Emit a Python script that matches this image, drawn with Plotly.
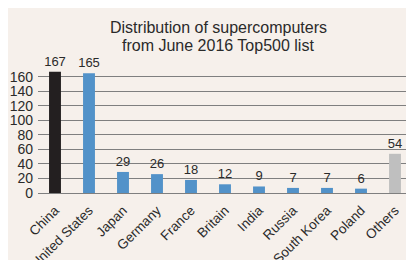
import plotly.graph_objects as go

countries = ["China", "United States", "Japan", "Germany", "France", "Britain",
             "India", "Russia", "South Korea", "Poland", "Others"]
counts = [167, 165, 29, 26, 18, 12, 9, 7, 7, 6, 54]
bar_colors = ["#231F20"] + ["#5292C9"] * 9 + ["#BFBFBF"]
title_lines = ["Distribution of supercomputers", "from June 2016 Top500 list"]

W, H = 414, 260
L, R, T, B = 30, 10, 58, 75
pw, ph = W - L - R, H - T - B

fig = go.Figure(go.Bar(
    x=countries, y=counts, marker_color=bar_colors, marker_line_width=0,
    text=[str(v) for v in counts], textposition="outside", constraintext="none",
    textfont=dict(size=13, color="#2a2a2a"), cliponaxis=False,
))

for i, line in enumerate(title_lines):
    fig.add_annotation(text=line, xref="paper", yref="paper",
                       x=(210 - L) / pw, y=(H - B - (19 + 18 * i)) / ph,
                       xanchor="center", yanchor="middle", showarrow=False,
                       font=dict(size=16, color="#2a2a2a"))

fig.update_layout(
    width=W, height=H, margin=dict(l=L, r=R, t=T, b=B, autoexpand=False),
    paper_bgcolor="#F6F0EB", plot_bgcolor="#F6F0EB",
    font=dict(family="Liberation Sans, Arial, sans-serif", color="#2a2a2a"),
    bargap=0.65, showlegend=False,
    xaxis=dict(tickangle=-45, tickfont=dict(size=13.5), showgrid=False,
               showline=False, zeroline=False, automargin=False,
               ticklabelstandoff=6),
    yaxis=dict(range=[0, 175], dtick=20, tickfont=dict(size=14),
               showgrid=True, gridcolor="#7f7f7f", gridwidth=1,
               zeroline=True, zerolinecolor="#7f7f7f", zerolinewidth=1,
               ticklabelstandoff=4, automargin=False),
)

fig.write_html("out.html")
